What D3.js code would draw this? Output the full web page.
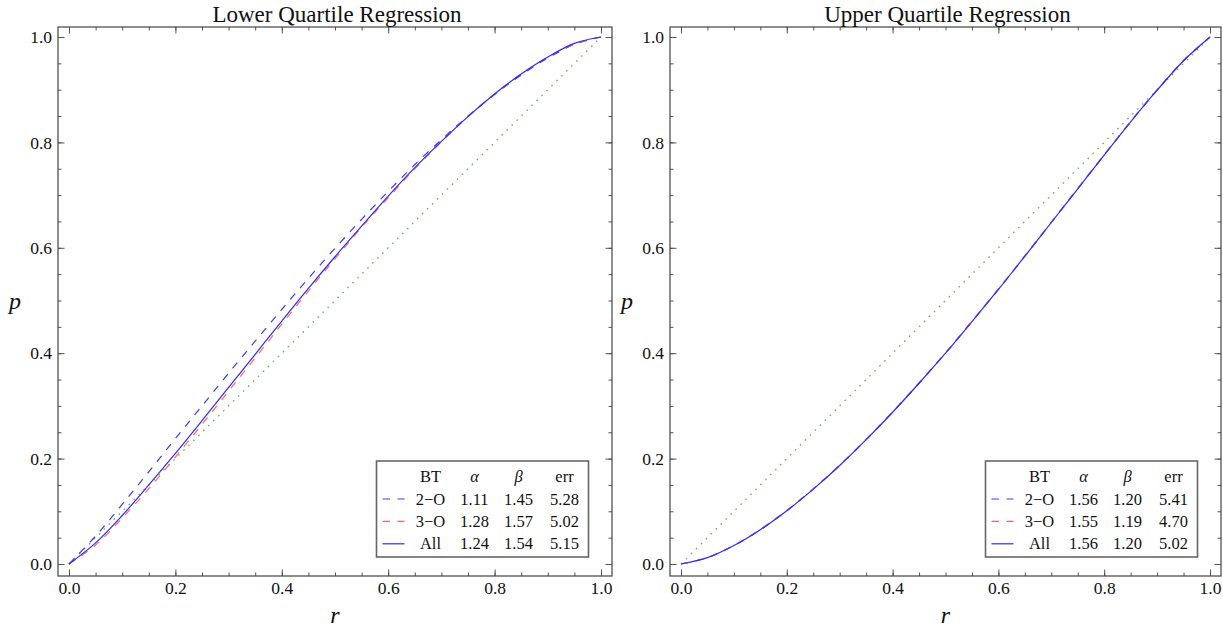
<!DOCTYPE html>
<html>
<head>
<meta charset="utf-8">
<script src="https://cdn.jsdelivr.net/npm/d3@7"></script>
<style>
  body { margin: 0; background: #fff; }
  svg text { font-family: "Liberation Serif", "Times New Roman", serif; fill: #111; }
</style>
</head>
<body>
<div id="chart"></div>
<script>
// data
const rGrid = [0, 0.05, 0.1, 0.15, 0.2, 0.25, 0.3, 0.35, 0.4, 0.45, 0.5,
               0.55, 0.6, 0.65, 0.7, 0.75, 0.8, 0.85, 0.9, 0.95, 1];

const lower2O  = [0, 0.053, 0.113, 0.175, 0.238, 0.300, 0.362, 0.423, 0.483, 0.542, 0.599,
                  0.654, 0.707, 0.758, 0.805, 0.850, 0.891, 0.928, 0.960, 0.986, 1];
const lower3O  = [0, 0.036, 0.087, 0.143, 0.203, 0.265, 0.328, 0.391, 0.455, 0.518, 0.579,
                  0.639, 0.695, 0.750, 0.801, 0.849, 0.892, 0.930, 0.962, 0.987, 1];
const lowerAll = [0, 0.040, 0.092, 0.150, 0.210, 0.272, 0.335, 0.398, 0.461, 0.523, 0.583,
                  0.641, 0.698, 0.752, 0.802, 0.849, 0.892, 0.930, 0.962, 0.988, 1];

const upper2O  = [0, 0.012, 0.035, 0.065, 0.101, 0.142, 0.187, 0.236, 0.288, 0.343, 0.400,
                  0.460, 0.521, 0.584, 0.648, 0.712, 0.776, 0.839, 0.899, 0.955, 1];
const upper3O  = [0, 0.012, 0.035, 0.066, 0.102, 0.143, 0.188, 0.237, 0.289, 0.344, 0.401,
                  0.461, 0.522, 0.585, 0.649, 0.713, 0.777, 0.840, 0.900, 0.956, 1];
const upperAll = [0, 0.012, 0.035, 0.065, 0.101, 0.142, 0.187, 0.236, 0.288, 0.343, 0.400,
                  0.460, 0.521, 0.584, 0.648, 0.712, 0.776, 0.839, 0.899, 0.955, 1];

// reference diagonal
const refR = [0, 1];
const refP = [0, 1];

// legend table
const seriesNames = ["2\u2212O", "3\u2212O", "All"];
const lowerAlpha = ["1.11", "1.28", "1.24"];
const lowerBeta  = ["1.45", "1.57", "1.54"];
const lowerErr   = ["5.28", "5.02", "5.15"];
const upperAlpha = ["1.56", "1.55", "1.56"];
const upperBeta  = ["1.20", "1.19", "1.20"];
const upperErr   = ["5.41", "4.70", "5.02"];

const majorTicks = [0, 0.2, 0.4, 0.6, 0.8, 1.0];

// line styles for the three series
const styles = [
    {stroke: "#3a3aff", dash: "7.5,7.5", width: 1.2},
    {stroke: "#ff6464", dash: "7.5,7.5", width: 1.2},
    {stroke: "#2b2bff", dash: null, width: 1.2}
];

const W = 1223, H = 628;
let svg = d3.select("#chart")
    .append("svg")
    .attr("width", W)
    .attr("height", H);

drawPanel({
    title: "Lower Quartile Regression",
    left: 58, right: 612,
    series: [lower2O, lower3O, lowerAll],
    alpha: lowerAlpha, beta: lowerBeta, err: lowerErr
});
drawPanel({
    title: "Upper Quartile Regression",
    left: 670, right: 1221,
    series: [upper2O, upper3O, upperAll],
    alpha: upperAlpha, beta: upperBeta, err: upperErr
});

function drawPanel(cfg) {

    const top = 27, bottom = 576, pad = 11;

    var x = d3.scaleLinear().domain([0, 1]).range([cfg.left + pad, cfg.right - pad]);
    var y = d3.scaleLinear().domain([0, 1]).range([bottom - 12, top + 10]);

    let g = svg.append("g");

    // minor ticks every 0.05
    const minor = d3.range(0, 21).map(i => i / 20);

    function addAxis(axisFn, scale, tx, ty, values, size, labels) {
        var ax = axisFn(scale)
            .tickValues(values)
            .tickSizeInner(-size)
            .tickSizeOuter(0)
            .tickPadding(6)
            .tickFormat(labels ? d3.format(".1f") : "");
        let a = g.append("g")
            .attr("transform", "translate(" + tx + "," + ty + ")")
            .call(ax);
        a.select(".domain").remove();
        a.selectAll(".tick line").attr("stroke", "#555").attr("stroke-width", 1);
        a.selectAll(".tick text")
            .style("font-family", "'Liberation Serif', 'Times New Roman', serif")
            .style("font-size", "17.5px")
            .attr("fill", "#111");
        return a;
    }

    addAxis(d3.axisBottom, x, 0, bottom, minor, 3.5, false);
    addAxis(d3.axisBottom, x, 0, bottom, majorTicks, 6.5, true);
    addAxis(d3.axisTop, x, 0, top, minor, 3.5, false);
    addAxis(d3.axisTop, x, 0, top, majorTicks, 6.5, false);
    addAxis(d3.axisLeft, y, cfg.left, 0, minor, 3.5, false);
    addAxis(d3.axisLeft, y, cfg.left, 0, majorTicks, 6.5, true);
    addAxis(d3.axisRight, y, cfg.right, 0, minor, 3.5, false);
    addAxis(d3.axisRight, y, cfg.right, 0, majorTicks, 6.5, false);

    // frame
    g.append("rect")
        .attr("x", cfg.left)
        .attr("y", top)
        .attr("width", cfg.right - cfg.left)
        .attr("height", bottom - top)
        .attr("fill", "none")
        .attr("stroke", "#444")
        .attr("stroke-width", 1.2);

    // reference diagonal
    g.append("path")
        .datum(refR.map((r, i) => [r, refP[i]]))
        .attr("d", d3.line().x(d => x(d[0])).y(d => y(d[1])))
        .attr("fill", "none")
        .attr("stroke", "#74ad74")
        .attr("stroke-width", 1.4)
        .attr("stroke-dasharray", "1.6,5.4");

    // curves
    const line = d3.line()
        .x(d => x(d[0]))
        .y(d => y(d[1]))
        .curve(d3.curveCatmullRom.alpha(0.5));

    cfg.series.forEach((vals, i) => {
        g.append("path")
            .datum(rGrid.map((r, j) => [r, vals[j]]))
            .attr("d", line)
            .attr("fill", "none")
            .attr("stroke", styles[i].stroke)
            .attr("stroke-width", styles[i].width)
            .attr("stroke-dasharray", styles[i].dash);
    });

    // title
    g.append("text")
        .text(cfg.title)
        .attr("x", (cfg.left + cfg.right) / 2 + 2)
        .attr("y", 22)
        .attr("text-anchor", "middle")
        .style("font-size", "23px");

    // axis labels
    g.append("text")
        .text("p")
        .attr("x", cfg.left - 43)
        .attr("y", 309)
        .attr("text-anchor", "middle")
        .style("font-style", "italic")
        .style("font-size", "24px");
    g.append("text")
        .text("r")
        .attr("x", x(0.5))
        .attr("y", 623)
        .attr("text-anchor", "middle")
        .style("font-style", "italic")
        .style("font-size", "24px");

    // legend
    const bw = 212, bh = 96;
    const bx = x(1) - 12.5 - bw, by = 461;
    let leg = g.append("g").attr("transform", "translate(" + bx + "," + by + ")");
    leg.append("rect")
        .attr("width", bw)
        .attr("height", bh)
        .attr("fill", "#fff")
        .attr("stroke", "#666")
        .attr("stroke-width", 1.6);

    const cols = [54, 98, 142, 188];
    const headers = ["BT", "\u03b1", "\u03b2", "err"];
    headers.forEach((h, k) => {
        leg.append("text")
            .text(h)
            .attr("x", cols[k])
            .attr("y", 21)
            .attr("text-anchor", "middle")
            .style("font-size", "16.5px")
            .style("font-style", (k == 1 || k == 2) ? "italic" : "normal");
    });

    seriesNames.forEach((name, i) => {
        const ry = 43.5 + i * 22.4;
        leg.append("line")
            .attr("x1", 6).attr("x2", 28)
            .attr("y1", ry - 5.5).attr("y2", ry - 5.5)
            .attr("stroke", styles[i].stroke)
            .attr("stroke-width", styles[i].width)
            .attr("stroke-dasharray", styles[i].dash);
        const cells = [name, cfg.alpha[i], cfg.beta[i], cfg.err[i]];
        cells.forEach((c, k) => {
            leg.append("text")
                .text(c)
                .attr("x", cols[k])
                .attr("y", ry)
                .attr("text-anchor", "middle")
                .style("font-size", "16.5px");
        });
    });
}
</script>
</body>
</html>
